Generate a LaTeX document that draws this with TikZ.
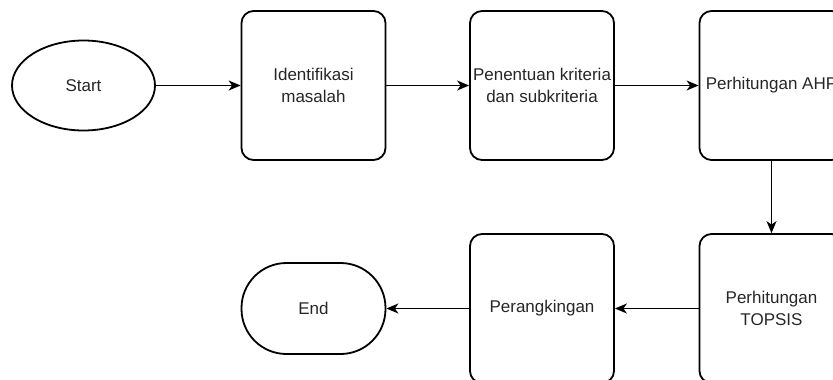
\documentclass[tikz,border=0pt]{standalone}
\usepackage{fontspec}
\setmainfont{Liberation Sans}
\usetikzlibrary{shapes.geometric,arrows.meta}
\begin{document}
\begin{tikzpicture}[x=1pt,y=-1pt,
  every node/.style={font=\fontsize{17}{21.5}\selectfont, text=black!85, align=center, inner sep=0pt},
  procbox/.style={draw, line width=1.8pt, rounded corners=12pt, minimum width=144pt, minimum height=149pt},
  termell/.style={draw, line width=1.8pt, ellipse, minimum width=143pt, minimum height=90pt},
  termstad/.style={draw, line width=1.8pt, rounded corners=45pt, minimum width=144pt, minimum height=91pt},
  flow/.style={line width=1.3pt, -{Stealth[length=12pt,width=10pt,inset=3.5pt]}}]
\useasboundingbox (0,0) rectangle (833,380);
\clip (0,0) rectangle (833,380);
\node[termell] (start) at (83.5,85.5) {Start};
\node[procbox] (ident) at (313.5,85.5) {Identifikasi\\masalah};
\node[procbox] (krit) at (542,85.5) {Penentuan kriteria\\dan subkriteria};
\node[procbox] (ahp) at (771.5,85.5) {Perhitungan AHP};
\node[procbox] (topsis) at (771.5,308.5) {Perhitungan\\TOPSIS};
\node[procbox] (rank) at (542,308.5) {Perangkingan};
\node[termstad] (end) at (313.5,308.5) {End};
\draw[flow] (start) -- (ident);
\draw[flow] (ident) -- (krit);
\draw[flow] (krit) -- (ahp);
\draw[flow] (ahp) -- (topsis);
\draw[flow] (topsis) -- (rank);
\draw[flow] (rank) -- (end);
\end{tikzpicture}
\end{document}
